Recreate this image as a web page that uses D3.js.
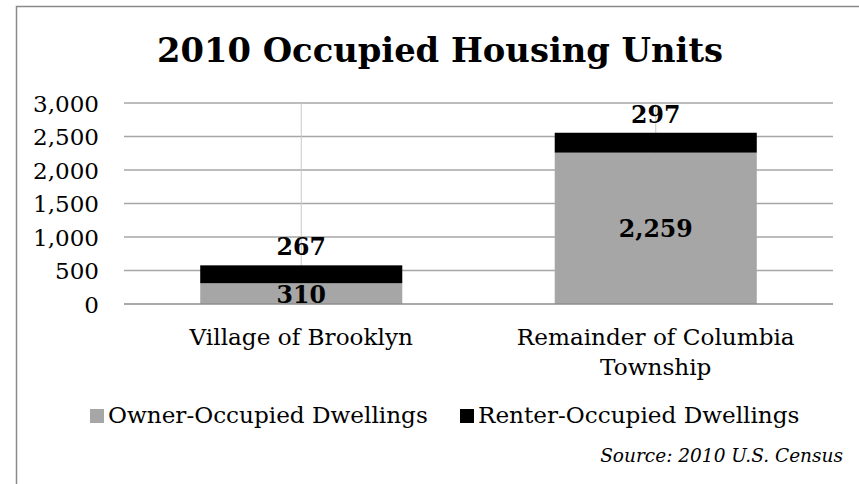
<!DOCTYPE html>
<html><head><meta charset="utf-8">
<script src="https://cdn.jsdelivr.net/npm/d3@7"></script>
<style>body{margin:0;background:#fff}svg{display:block}</style>
</head><body>
<script>
const categories = [["Village of Brooklyn"], ["Remainder of Columbia", "Township"]];
const seriesNames = ["Owner-Occupied Dwellings", "Renter-Occupied Dwellings"];
const owner = [310, 2259];
const renter = [267, 297];
const yTicks = [0, 500, 1000, 1500, 2000, 2500, 3000];
const colors = ["#a6a6a6", "#000000"];

const W = 859, H = 484;
const FONT = "'DejaVu Serif', serif";
const svg = d3.select("body").append("svg").attr("width", W).attr("height", H);
svg.append("rect").attr("x", 16.5).attr("y", 6.5).attr("width", W).attr("height", H)
  .attr("fill", "#fff").attr("stroke", "#8a8a8a").attr("stroke-width", 1.5);

// scale a selection's font size so that a reference text reaches a target width
function fit(sel, refNode, target) {
  const base = parseFloat(sel.attr("font-size"));
  const w = refNode.getComputedTextLength();
  sel.attr("font-size", (base * target / w).toFixed(2));
}

const title = svg.append("text").attr("x", 440).attr("y", 62).attr("text-anchor", "middle")
  .attr("font-family", FONT).attr("font-weight", "bold").attr("font-size", 30)
  .text("2010 Occupied Housing Units");
fit(title, title.node(), 566);

const x = d3.scaleBand().domain(d3.range(categories.length)).range([124, 833]).paddingInner(0.43).paddingOuter(0.215);
const y = d3.scaleLinear().domain([0, 3000]).range([304, 103]);

// gridlines
svg.append("g").selectAll("line").data(yTicks.filter(d => d > 0)).join("line")
  .attr("x1", 124).attr("x2", 833).attr("y1", d => y(d)).attr("y2", d => y(d))
  .attr("stroke", "#a6a6a6").attr("stroke-width", 1.3);
// vertical category lines
svg.append("g").selectAll("line").data(d3.range(categories.length)).join("line")
  .attr("x1", i => x(i) + x.bandwidth() / 2).attr("x2", i => x(i) + x.bandwidth() / 2)
  .attr("y1", y(3000)).attr("y2", y(0)).attr("stroke", "#c8c8c8").attr("stroke-width", 1);

const yAxis = svg.append("g").attr("transform", "translate(124,0)")
  .call(d3.axisLeft(y).tickValues(yTicks).tickFormat(d3.format(",")).tickSize(0).tickPadding(25));
yAxis.select(".domain").remove();
yAxis.attr("font-family", FONT).attr("font-size", 16);
yAxis.selectAll("text").attr("fill", "#000").attr("dy", "0.36em");
fit(yAxis, yAxis.selectAll("text").filter(d => d === 3000).node(), 66);

const stackData = owner.map((o, i) => ({ i, owner: o, renter: renter[i] }));
const stack = d3.stack().keys(["owner", "renter"])(stackData);
svg.append("g").selectAll("g").data(stack).join("g").attr("fill", (d, k) => colors[k])
  .selectAll("rect").data(d => d).join("rect")
  .attr("x", d => x(d.data.i)).attr("width", x.bandwidth())
  .attr("y", d => y(d[1])).attr("height", d => y(d[0]) - y(d[1]));

// axis line
svg.append("line").attr("x1", 124).attr("x2", 833).attr("y1", y(0)).attr("y2", y(0))
  .attr("stroke", "#8c8c8c").attr("stroke-width", 1.5);

// labels
const fmt = d3.format(",");
const labels = svg.append("g").attr("font-family", FONT).attr("font-weight", "bold").attr("font-size", 19)
  .attr("text-anchor", "middle");
labels.selectAll("text.own").data(stack[0]).join("text").attr("class", "own")
  .attr("x", d => x(d.data.i) + x.bandwidth() / 2).attr("y", d => (y(d[0]) + y(d[1])) / 2 + 9)
  .text(d => fmt(d[1] - d[0]));
labels.selectAll("text.rent").data(stack[1]).join("text").attr("class", "rent")
  .attr("x", d => x(d.data.i) + x.bandwidth() / 2).attr("y", d => y(d[1]) - 10)
  .text(d => fmt(d[1] - d[0]));
fit(labels, labels.selectAll("text.own").filter(d => d.data.i === 1).node(), 74);

// category labels
const catG = svg.append("g").attr("font-family", FONT).attr("font-size", 18).attr("text-anchor", "middle");
const cat = catG.selectAll("text").data(categories).join("text")
  .attr("x", (d, i) => x(i) + x.bandwidth() / 2).attr("y", 345);
cat.selectAll("tspan").data(d => d).join("tspan")
  .attr("x", function () { return this.parentNode.getAttribute("x"); })
  .attr("dy", (d, j) => j === 0 ? 0 : 30).text(d => d);
fit(catG, cat.filter((d, i) => i === 1).select("tspan").node(), 278);

// legend
const legX = [90, 460];
const legendG = svg.append("g").attr("font-family", FONT).attr("font-size", 18);
const leg = legendG.selectAll("g").data(seriesNames).join("g")
  .attr("transform", (d, i) => `translate(${legX[i]},416)`);
leg.append("rect").attr("x", 0).attr("y", -7).attr("width", 14).attr("height", 14).attr("fill", (d, i) => colors[i]);
const legText = leg.append("text").attr("x", 18).attr("y", 7).text(d => d);
fit(legendG, legText.node(), 320);

const src = svg.append("text").attr("x", 843).attr("y", 462).attr("text-anchor", "end")
  .attr("font-family", FONT).attr("font-style", "italic").attr("font-size", 14)
  .text("Source: 2010 U.S. Census");
fit(src, src.node(), 243);
</script>
</body></html>
